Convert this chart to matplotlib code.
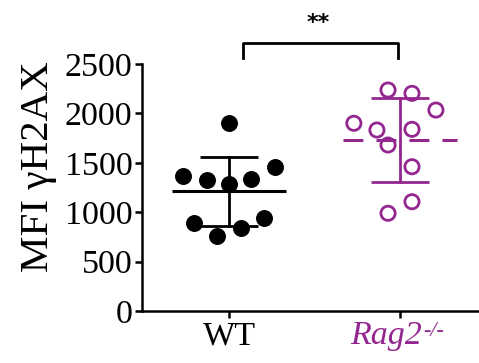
import numpy as np
import matplotlib
matplotlib.use("Agg")
import matplotlib.pyplot as plt

plt.rcParams['font.family'] = ['Liberation Serif', 'DejaVu Serif']

groups = ["WT", "Rag2"]
wt_values = [1905, 1366, 1326, 1282, 1333, 1454, 894, 759, 843, 944]
rag2_values = [2237, 2203, 2034, 1900, 1832, 1839, 1680, 1460, 1106, 989]
wt_offsets = [0.0, -0.27, -0.13, 0.0, 0.13, 0.27, -0.205, -0.07, 0.07, 0.205]
rag2_offsets = [-0.07, 0.07, 0.21, -0.27, -0.135, 0.07, -0.07, 0.07, 0.07, -0.07]
yticks = [0, 500, 1000, 1500, 2000, 2500]
signif = "**"

purple = "#93278F"
black = "#000000"

fig = plt.figure(figsize=(4.79, 3.63), dpi=100)
ax = fig.add_axes([142 / 479, 52 / 363, 1 - 142 / 479, 247 / 363])

positions = [1, 2]
colors = [black, purple]
datasets = [wt_values, rag2_values]
offsets = [wt_offsets, rag2_offsets]

for pos, vals, offs, col in zip(positions, datasets, offsets, colors):
    vals = np.array(vals, dtype=float)
    m = vals.mean()
    sd = vals.std(ddof=1)
    xs = pos + np.array(offs)
    # mean line
    mean_line, = ax.plot([pos - 0.335, pos + 0.335], [m, m], color=col, lw=2.2,
                         solid_capstyle='butt', zorder=2)
    if col == purple:
        mean_line.set_dashes((6.5, 4.3))
    # SD bar with caps
    ax.plot([pos, pos], [m - sd, m + sd], color=col, lw=2.0, zorder=2)
    for yv in (m - sd, m + sd):
        ax.plot([pos - 0.17, pos + 0.17], [yv, yv], color=col, lw=2.0,
                solid_capstyle='butt', zorder=2)
    if col == black:
        ax.scatter(xs, vals, s=125, color=black, zorder=3)
    else:
        ax.scatter(xs, vals, s=105, facecolor='none', edgecolor=purple,
                   linewidths=2.0, zorder=3)

ax.set_xlim(0.491, 2.462)
ax.set_ylim(0, 2500)
ax.set_yticks(yticks)
ax.set_yticklabels([str(t) for t in yticks], fontsize=24.5)
ax.set_xticks(positions)
ax.set_xticklabels([groups[0], ""], fontsize=24.5)

for side in ('top', 'right'):
    ax.spines[side].set_visible(False)
for side in ('left', 'bottom'):
    ax.spines[side].set_linewidth(1.8)
ax.tick_params(axis='both', direction='out', length=5, width=1.8, pad=2)

ax.set_ylabel("MFI γH2AX", fontsize=29.5, labelpad=4)
ax.yaxis.set_label_coords(-0.253, 0.585)

# italic knockout label under the second group, with superscript
rag = ax.annotate(groups[1], xy=(2, 0), xycoords=('data', 'axes fraction'),
                  xytext=(16, -7), textcoords='offset points',
                  ha='right', va='top', fontsize=24.5, style='italic',
                  color=purple, annotation_clip=False)
ax.annotate("-/-", xy=(1, 1), xycoords=rag, xytext=(1, -1),
            textcoords='offset points', ha='left', va='top', fontsize=16,
            style='italic', color=purple, annotation_clip=False)

# significance bracket
yb, yt = 2560, 2712
ax.plot([1.08, 1.08, 1.99, 1.99], [yb, yt, yt, yb], color=black, lw=2.0,
        clip_on=False)
ax.text(1.52, 2920, signif, ha='center', va='center', fontsize=16,
        family='DejaVu Sans', fontweight='bold', clip_on=False)

fig.savefig("out.png", dpi=100)
